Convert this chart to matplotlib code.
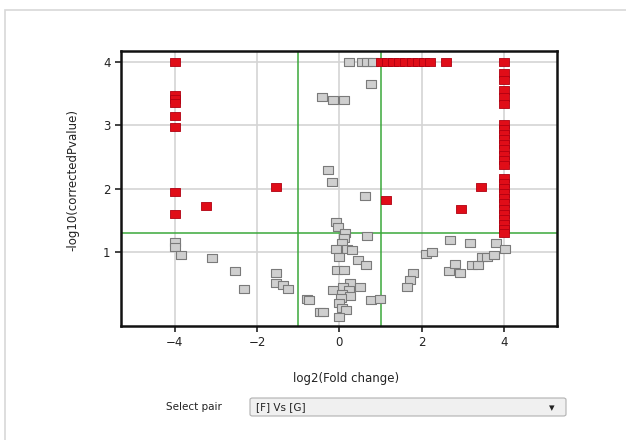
import numpy as np
import matplotlib.pyplot as plt
from matplotlib.patches import Rectangle, FancyBboxPatch
from matplotlib.path import Path

# volcano data: log2 fold change vs -log10(corrected p)
sig_x = [-4.0, -4.0, -4.0, -4.0, -4.0, -4.0, -4.0, -4.0, -3.24, -1.54,
         1.0, 1.15, 1.3, 1.45, 1.6, 1.75, 1.9, 2.05, 2.2, 2.58,
         1.13, 2.96, 3.44]
sig_y = [3.99, 3.47, 3.42, 3.35, 3.14, 2.97, 1.95, 1.60, 1.73, 2.03,
         3.99, 3.99, 3.99, 3.99, 3.99, 3.99, 3.99, 3.99, 3.99, 3.99,
         1.82, 1.69, 2.03]

col4_y = [4.0, 3.83, 3.72, 3.55, 3.45, 3.33, 3.02, 2.94, 2.86, 2.78, 2.70,
          2.62, 2.54, 2.46, 2.38, 2.17, 2.09, 2.01, 1.93, 1.85, 1.77, 1.69,
          1.61, 1.53, 1.45, 1.37, 1.30]

ns_x = [-3.99, -3.99, -3.85, -3.10, -2.53, -2.31, -1.54, -1.54, -1.37, -1.24,
        -0.79, -0.73, -0.47,
        0.24, 0.54, 0.66, 0.81, 0.76, -0.43, -0.15, 0.12,
        -0.27, -0.17, 0.61,
        -0.08, -0.04, 0.14, 0.66, 0.10, 0.06, -0.08, 0.18, 0.30, 0.0, 0.44,
        0.65, -0.06, 0.10,
        0.26, 0.08, -0.15, 0.50, 0.24, 0.06, 0.26, 0.04, 0.77, 0.99, 0.0,
        0.06, 0.16, -0.40, 0.0,
        1.78, 1.72, 1.65, 2.10, 2.24, 2.69, 3.16, 3.80, 4.02, 2.65, 2.81,
        2.93, 3.21, 3.36, 3.46, 3.58, 3.74]
ns_y = [1.16, 1.09, 0.96, 0.91, 0.71, 0.42, 0.67, 0.52, 0.49, 0.43,
        0.26, 0.25, 0.06,
        3.99, 3.99, 3.99, 3.99, 3.65, 3.45, 3.40, 3.40,
        2.29, 2.11, 1.88,
        1.48, 1.40, 1.31, 1.26, 1.22, 1.14, 1.05, 1.05, 1.04, 0.92, 0.88,
        0.80, 0.73, 0.73,
        0.51, 0.46, 0.41, 0.45, 0.40, 0.35, 0.31, 0.28, 0.25, 0.26, 0.20,
        0.12, 0.09, 0.06, -0.01,
        0.67, 0.57, 0.45, 0.97, 1.00, 1.20, 1.14, 1.14, 1.05, 0.71, 0.82,
        0.68, 0.80, 0.80, 0.92, 0.92, 0.96]

x_ticks = [-4, -2, 0, 2, 4]
y_ticks = [1, 2, 3, 4]
fc_cut = 1.0
p_cut = -np.log10(0.05)

# slightly wide rectangle marker
rect = Path([(-1.3, -1), (1.3, -1), (1.3, 1), (-1.3, 1), (-1.3, -1)],
            [Path.MOVETO, Path.LINETO, Path.LINETO, Path.LINETO, Path.CLOSEPOLY])

fig = plt.figure(figsize=(6.26, 4.40), dpi=100)
fig.patches.append(Rectangle((5 / 626, -0.1), 1.2, 1 - 10 / 440 + 0.1,
                             transform=fig.transFigure, fill=False,
                             edgecolor='#d8d8d8', linewidth=1.2))

ax = fig.add_axes([0.1933, 0.259, 0.6965, 0.625])
ax.set_xlim(-5.3, 5.28)
ax.set_ylim(-0.16, 4.17)
ax.grid(True, color='#d4d4d4', linewidth=1.2)
ax.set_axisbelow(True)

ax.axvline(-fc_cut, color='#3aa83a', linewidth=1.1, zorder=1)
ax.axvline(fc_cut, color='#3aa83a', linewidth=1.1, zorder=1)
ax.axhline(p_cut, color='#3aa83a', linewidth=1.1, zorder=1)

ax.scatter(ns_x, ns_y, marker=rect, s=44, facecolor='#cfcfcf',
           edgecolor='#7a7a7a', linewidth=0.8, zorder=3)
ax.scatter(sig_x, sig_y, marker=rect, s=50, facecolor='#e00d18',
           edgecolor='#b00010', linewidth=0.6, zorder=4)
ax.scatter([4.0] * len(col4_y), col4_y, marker=rect, s=50, facecolor='#e00d18',
           edgecolor='#b00010', linewidth=0.6, zorder=4)

ax.set_xticks(x_ticks)
ax.set_xticklabels(['\u22124', '\u22122', '0', '2', '4'])
ax.set_yticks(y_ticks)
ax.tick_params(labelsize=8.5, colors='#222222', length=4, width=1.2)
for s in ax.spines.values():
    s.set_linewidth(1.8)
    s.set_color('#111111')

fig.text(0.553, 1 - 378 / 440, 'log2(Fold change)', ha='center', va='center',
         fontsize=8.5, color='#222222')
fig.text(73 / 626, 1 - 180 / 440, '-log10(correctedPvalue)', ha='center',
         va='center', rotation=90, fontsize=8.5, color='#222222')

# select pair combo box
fig.text(194 / 626, 1 - 407 / 440, 'Select pair', ha='center', va='center',
         fontsize=7.5, color='#222222')
fig.patches.append(FancyBboxPatch((250 / 626, 1 - 416 / 440), 316 / 626, 18 / 440,
                                  boxstyle='round,pad=0,rounding_size=0.004',
                                  transform=fig.transFigure, facecolor='#f0f0f0',
                                  edgecolor='#b0b0b0', linewidth=0.8))
fig.text(256 / 626, 1 - 407 / 440, '[F] Vs [G]', ha='left', va='center',
         fontsize=7.5, color='#222222')
fig.text(552 / 626, 1 - 408 / 440, '\u25BE', ha='center', va='center',
         fontsize=8, color='#222222')

fig.savefig('out.png', dpi=100)
